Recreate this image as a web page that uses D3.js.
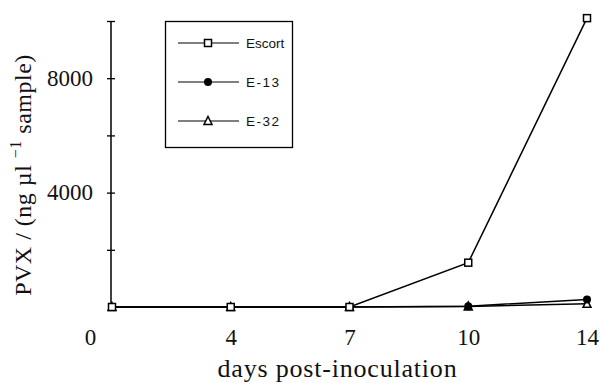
<!DOCTYPE html>
<html>
<head>
<meta charset="utf-8">
<script src="https://cdn.jsdelivr.net/npm/d3@7"></script>
<style>
  body { margin: 0; background: #fff; }
  svg { display: block; }
</style>
</head>
<body>
<div id="chart"></div>
<script>
// values
const days = ['0', '4', '7', '10', '14'];
const escort = [0, 0, 0, 1550, 10100];
const e13 = [0, 0, 0, 30, 260];
const e32 = [0, 0, 0, 20, 110];
const yTicks = [2000, 4000, 6000, 8000, 10000];
const yLabelled = [4000, 8000];

const series = [
    {name: 'E-32', values: e32, marker: 'triangle'},
    {name: 'E-13', values: e13, marker: 'circle'},
    {name: 'Escort', values: escort, marker: 'square'}
];
const legendOrder = ['Escort', 'E-13', 'E-32'];

const width = 600, height = 383;
const serif = '"Liberation Serif", "Times New Roman", serif';
const sans = '"Liberation Sans", Arial, sans-serif';

const svg = d3.select('#chart').append('svg')
    .attr('width', width)
    .attr('height', height);

const x = d3.scalePoint()
    .domain(days)
    .range([112, 587]);

const y = d3.scaleLinear()
    .domain([0, 10000])
    .range([307, 21]);

// y axis with ticks crossing the line
const yAxis = svg.append('g')
    .attr('transform', `translate(${x(days[0]) - 1},0)`)
    .call(d3.axisLeft(y)
        .tickValues(yTicks)
        .tickSize(4)
        .tickPadding(14)
        .tickSizeOuter(0)
        .tickFormat(d => yLabelled.includes(d) ? d : ''));
yAxis.select('.domain').attr('stroke-width', 1.5)
    .attr('d', `M0,${y(0)}V${y(10000)}`);
yAxis.selectAll('.tick line').attr('x1', 4).attr('stroke-width', 1.3);
yAxis.selectAll('.tick text')
    .attr('font-family', serif)
    .attr('font-size', 23)
    .attr('fill', '#111');

// x labels, no axis line
const xAxis = svg.append('g')
    .attr('transform', `translate(0,${y(0)})`)
    .call(d3.axisBottom(x).tickSize(0).tickPadding(22));
xAxis.select('.domain').remove();
xAxis.selectAll('.tick text')
    .attr('font-family', serif)
    .attr('font-size', 23)
    .attr('fill', '#111')
    .attr('dx', (d, i) => i === 0 ? -22 : 0);

svg.append('text')
    .attr('x', (x(days[0]) + x(days[days.length - 1])) / 2 - 12)
    .attr('y', 377)
    .attr('text-anchor', 'middle')
    .attr('font-family', serif)
    .attr('font-size', 26)
    .attr('letter-spacing', 0.8)
    .attr('fill', '#111')
    .text('days post-inoculation');

const yTitle = svg.append('text')
    .attr('transform', `translate(31,${(y(0) + y(10000)) / 2 + 11}) rotate(-90)`)
    .attr('text-anchor', 'middle')
    .attr('font-family', serif)
    .attr('font-size', 24)
    .attr('letter-spacing', 0.5)
    .attr('fill', '#111');
yTitle.append('tspan').text('PVX / (ng µl ');
yTitle.append('tspan').attr('font-size', 16).attr('dy', -10).text('−1');
yTitle.append('tspan').attr('dy', 10).text(' sample)');

// markers
function drawMarker(g, type, cx, cy) {
    if (type === 'square') {
        g.append('rect')
            .attr('x', cx - 3.5).attr('y', cy - 3.5)
            .attr('width', 7).attr('height', 7)
            .attr('fill', '#fff').attr('stroke', '#000').attr('stroke-width', 1.5);
    } else if (type === 'circle') {
        g.append('circle')
            .attr('cx', cx).attr('cy', cy).attr('r', 4)
            .attr('fill', '#000');
    } else {
        g.append('path')
            .attr('d', `M${cx},${cy - 4.5}L${cx + 4},${cy + 3.5}L${cx - 4},${cy + 3.5}Z`)
            .attr('fill', '#fff').attr('stroke', '#000').attr('stroke-width', 1.5);
    }
}

const line = d3.line()
    .x((d, i) => x(days[i]))
    .y(d => y(d));

const plot = svg.append('g');
series.forEach(s => {
    plot.append('path')
        .datum(s.values)
        .attr('d', line)
        .attr('fill', 'none')
        .attr('stroke', '#000')
        .attr('stroke-width', 1.5);
});
series.forEach(s => {
    s.values.forEach((v, i) => drawMarker(plot, s.marker, x(days[i]), y(v)));
});

// legend
const legend = svg.append('g');
legend.append('rect')
    .attr('x', 165.5).attr('y', 21.5)
    .attr('width', 127).attr('height', 126)
    .attr('fill', '#fff').attr('stroke', '#000').attr('stroke-width', 1.3);

legendOrder.forEach((name, i) => {
    const s = series.find(d => d.name === name);
    const ly = 43 + i * 39;
    legend.append('line')
        .attr('x1', 178).attr('x2', 239)
        .attr('y1', ly).attr('y2', ly)
        .attr('stroke', '#000').attr('stroke-width', 1.2);
    drawMarker(legend, s.marker, 208, ly);
    legend.append('text')
        .attr('x', 246).attr('y', ly + 5)
        .attr('font-family', sans)
        .attr('font-size', 13.5)
        .attr('letter-spacing', name === 'Escort' ? 0 : 1.5)
        .attr('fill', '#111')
        .text(name);
});
</script>
</body>
</html>
